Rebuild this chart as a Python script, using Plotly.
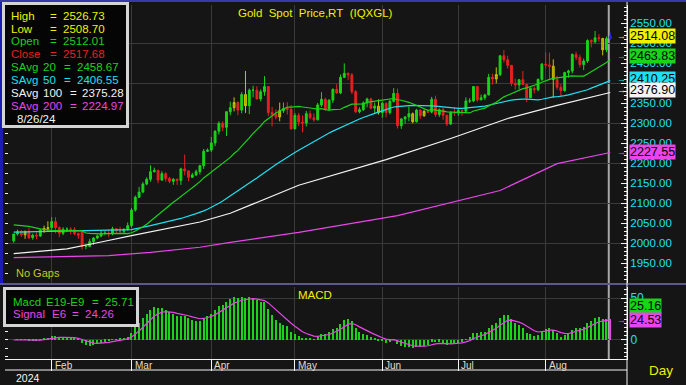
import plotly.graph_objects as go
import pandas as pd
import numpy as np

W, H = 686, 385

# ---------------- data (daily, 2024-01-18 .. 2024-08-26, weekdays) ----------------
start_date, end_date = "2024-01-18", "2024-08-26"

open_jan  = [2006, 2023, 2029, 2021, 2029, 2014, 2020, 2018, 2033, 2037]
high_jan  = [2024, 2034, 2033, 2032, 2038, 2024, 2027, 2036, 2044, 2055]
low_jan   = [2001, 2019, 2016, 2011, 2010, 2009, 2010, 2016, 2026, 2030]
close_jan = [2023, 2029, 2021, 2029, 2014, 2020, 2018, 2033, 2037, 2039]

open_feb  = [2039, 2054, 2039, 2025, 2035, 2035, 2034, 2024, 2028, 1992, 1992, 2004, 2013, 2018, 2025, 2025, 2024, 2036, 2031, 2030, 2034]
high_feb  = [2065, 2065, 2042, 2040, 2040, 2040, 2040, 2027, 2031, 1997, 2011, 2015, 2022, 2032, 2033, 2035, 2041, 2038, 2041, 2038, 2052]
low_feb   = [2035, 2025, 2015, 2020, 2028, 2022, 2020, 2011, 1984, 1985, 1990, 1996, 2010, 2015, 2020, 2015, 2020, 2025, 2025, 2024, 2031]
close_feb = [2054, 2039, 2025, 2035, 2035, 2034, 2024, 2020, 1992, 1992, 2004, 2013, 2018, 2025, 2025, 2024, 2036, 2031, 2030, 2034, 2044]

open_mar  = [2044, 2083, 2115, 2128, 2148, 2160, 2179, 2182, 2158, 2174, 2162, 2155, 2160, 2157, 2186, 2181, 2165, 2171, 2179, 2194, 2230]
high_mar  = [2088, 2119, 2141, 2153, 2165, 2195, 2189, 2184, 2180, 2178, 2166, 2163, 2162, 2189, 2222, 2183, 2176, 2184, 2196, 2236, 2237]
low_mar   = [2039, 2079, 2113, 2126, 2145, 2154, 2177, 2150, 2156, 2154, 2150, 2146, 2146, 2146, 2170, 2155, 2163, 2168, 2172, 2186, 2228]
close_mar = [2083, 2115, 2128, 2148, 2160, 2179, 2182, 2158, 2174, 2162, 2155, 2160, 2157, 2186, 2181, 2165, 2171, 2179, 2194, 2230, 2233]

open_apr  = [2233, 2251, 2280, 2300, 2290, 2329, 2339, 2352, 2333, 2372, 2344, 2383, 2383, 2361, 2379, 2392, 2327, 2322, 2316, 2332, 2337, 2335]
high_apr  = [2266, 2283, 2305, 2305, 2330, 2354, 2365, 2355, 2378, 2431, 2387, 2394, 2393, 2385, 2418, 2392, 2341, 2335, 2352, 2352, 2353, 2346]
low_apr   = [2228, 2243, 2272, 2280, 2268, 2320, 2330, 2320, 2325, 2326, 2323, 2365, 2360, 2355, 2369, 2318, 2292, 2310, 2305, 2326, 2322, 2285]
close_apr = [2251, 2280, 2300, 2290, 2329, 2339, 2352, 2333, 2372, 2344, 2383, 2383, 2361, 2379, 2392, 2327, 2322, 2316, 2332, 2337, 2335, 2286]

open_may  = [2286, 2320, 2303, 2301, 2324, 2314, 2309, 2346, 2360, 2336, 2358, 2385, 2376, 2415, 2425, 2421, 2379, 2329, 2334, 2351, 2361, 2338, 2343]
high_may  = [2326, 2326, 2320, 2331, 2332, 2325, 2351, 2378, 2364, 2360, 2387, 2398, 2422, 2450, 2427, 2426, 2383, 2340, 2355, 2364, 2364, 2352, 2360]
low_may   = [2285, 2293, 2277, 2292, 2310, 2304, 2307, 2341, 2332, 2331, 2351, 2374, 2373, 2413, 2408, 2373, 2326, 2325, 2331, 2340, 2335, 2323, 2322]
close_may = [2320, 2303, 2301, 2324, 2314, 2309, 2346, 2360, 2336, 2358, 2385, 2376, 2415, 2425, 2421, 2379, 2329, 2334, 2351, 2361, 2338, 2343, 2327]

open_jun  = [2327, 2350, 2327, 2355, 2375, 2294, 2311, 2316, 2324, 2304, 2333, 2319, 2330, 2328, 2360, 2322, 2334, 2320, 2298, 2327]
high_jun  = [2354, 2352, 2360, 2388, 2387, 2313, 2318, 2342, 2327, 2336, 2335, 2334, 2334, 2366, 2369, 2337, 2339, 2322, 2330, 2339]
low_jun   = [2314, 2315, 2322, 2352, 2287, 2286, 2299, 2305, 2300, 2302, 2311, 2316, 2326, 2325, 2316, 2316, 2309, 2293, 2296, 2319]
close_jun = [2350, 2327, 2355, 2375, 2294, 2311, 2316, 2324, 2304, 2333, 2319, 2330, 2328, 2360, 2322, 2334, 2320, 2298, 2327, 2326]

open_jul  = [2326, 2332, 2330, 2356, 2356, 2392, 2359, 2364, 2371, 2415, 2411, 2422, 2469, 2459, 2445, 2400, 2396, 2409, 2397, 2364, 2387, 2384, 2410]
high_jul  = [2339, 2335, 2365, 2363, 2392, 2393, 2372, 2374, 2424, 2424, 2440, 2470, 2483, 2469, 2446, 2412, 2411, 2431, 2398, 2390, 2392, 2412, 2451]
low_jul   = [2319, 2319, 2329, 2351, 2353, 2354, 2357, 2358, 2370, 2397, 2400, 2418, 2452, 2437, 2393, 2384, 2385, 2397, 2353, 2364, 2375, 2380, 2406]
close_jul = [2332, 2330, 2356, 2356, 2392, 2359, 2364, 2371, 2415, 2411, 2422, 2469, 2459, 2445, 2400, 2396, 2409, 2397, 2364, 2387, 2384, 2410, 2448]

open_aug  = [2448, 2446, 2443, 2410, 2390, 2382, 2427, 2431, 2472, 2465, 2447, 2456, 2507, 2504, 2514, 2512, 2484, 2512]
high_aug  = [2478, 2477, 2460, 2419, 2398, 2429, 2434, 2475, 2479, 2472, 2462, 2510, 2510, 2531, 2523, 2514, 2517, 2527]
low_aug   = [2437, 2410, 2364, 2384, 2367, 2379, 2414, 2425, 2458, 2440, 2433, 2451, 2490, 2500, 2504, 2470, 2478, 2509]
close_aug = [2446, 2443, 2410, 2390, 2382, 2427, 2431, 2472, 2465, 2447, 2456, 2507, 2504, 2514, 2512, 2484, 2512, 2518]

# bars the chart paints in its neutral (olive) colour
neutral_bar_dates = ["2024-01-23", "2024-01-30", "2024-01-31", "2024-04-09", "2024-04-12", "2024-04-25",
                     "2024-05-31", "2024-06-13", "2024-06-18", "2024-07-15", "2024-08-05", "2024-08-22"]

# moving averages at selected bars (bar index, value)
sma20_idx  = [0, 4, 7, 10, 18]
sma20_head = [2046, 2042, 2036, 2032, 2031]
sma50_idx  = [0, 15, 31, 36, 44, 48]
sma50_head = [2028, 2031, 2034, 2044, 2062, 2074]
sma100_idx = [0, 14, 23, 31, 49, 57, 75, 88, 98, 115, 130, 143, 157]
sma100_val = [1974, 1986, 2003, 2019, 2053, 2075, 2145, 2182, 2209, 2262, 2312, 2345, 2377]
sma200_idx = [0, 23, 25, 36, 49, 57, 75, 101, 128, 143, 157]
sma200_val = [1964, 1967, 1969, 1977, 1990, 2002, 2027, 2069, 2132, 2199, 2227]

month_labels = ["Feb", "Mar", "Apr", "May", "Jun", "Jul", "Aug"]
month_first_day = ["2024-02-01", "2024-03-01", "2024-04-01", "2024-05-01", "2024-06-03", "2024-07-01", "2024-08-01"]
year_label = "2024"

price_ticks = [1950, 2000, 2050, 2100, 2150, 2200, 2250, 2300, 2350, 2400, 2450, 2500, 2550]
macd_ticks = [0, 50]

legend_labels = ["High", "Low", "Open", "Close", "SAvg", "SAvg", "SAvg", "SAvg"]
legend_periods = ["", "", "", "", "20", "50", "100", "200"]
legend_values = ["2526.73", "2508.70", "2512.01", "2517.68", "2458.67", "2406.55", "2375.28", "2224.97"]
legend_date = "8/26/24"
macd_legend_words = [["Macd", "E19-E9", "=", "25.71"], ["Signal", "E6", "=", "24.26"]]
last_labels = [("2514.08", 2514.08), ("2463.83", 2463.83), ("2410.25", 2410.25), ("2376.90", 2376.90), ("2227.55", 2227.55)]
macd_last = [("25.16", 25.16), ("24.53", 24.53)]

# ---------------- assemble ----------------
opens = open_jan + open_feb + open_mar + open_apr + open_may + open_jun + open_jul + open_aug
highs = high_jan + high_feb + high_mar + high_apr + high_may + high_jun + high_jul + high_aug
lows = low_jan + low_feb + low_mar + low_apr + low_may + low_jun + low_jul + low_aug
closes = close_jan + close_feb + close_mar + close_apr + close_may + close_jun + close_jul + close_aug
dates = pd.bdate_range(start_date, end_date)
n = len(dates)
idx = list(range(n))

c = pd.Series(closes, dtype=float)
sma20 = c.rolling(20).mean()
sma50 = c.rolling(50).mean()
ema_fast = c.ewm(span=9, adjust=False).mean()
ema_slow = c.ewm(span=19, adjust=False).mean()
macd = ema_fast - ema_slow
signal = macd.ewm(span=6, adjust=False).mean()

sma20_x = sma20_idx + idx[19:]
sma20_y = sma20_head + list(sma20[19:])
sma50_x = sma50_idx + idx[49:]
sma50_y = sma50_head + list(sma50[49:])

month_pos = [int(dates.get_loc(pd.Timestamp(d))) for d in month_first_day]
neutral = set(int(dates.get_loc(pd.Timestamp(d))) for d in neutral_bar_dates)

# ---------------- styling ----------------
BG = "#151515"
GRID = "#3a3a3a"
GREEN = "#19d419"
RED = "#e62020"
OLIVE = "#a8a000"
YEL = "#f0f000"
CYAN = "#1ee0f0"
WHITE = "#f4f4f4"
MAG = "#e846e8"
FONT = "Arial, Liberation Sans, sans-serif"

def fx(p):
    return p / W

def fy(p):
    return 1 - p / H

XR = [-2.29, 161.4]

fig = go.Figure()

def candle(ii, col, wick=None):
    wick = wick or col
    fig.add_trace(go.Candlestick(
        x=ii, open=[opens[i] for i in ii], high=[highs[i] for i in ii],
        low=[lows[i] for i in ii], close=[closes[i] for i in ii],
        increasing=dict(line=dict(color=wick, width=1), fillcolor=col),
        decreasing=dict(line=dict(color=wick, width=1), fillcolor=col),
        whiskerwidth=0, showlegend=False, hoverinfo="skip", xaxis="x", yaxis="y"))

body = idx[:-1]
up = [i for i in body if closes[i] >= opens[i] and i not in neutral]
dn = [i for i in body if closes[i] < opens[i] and i not in neutral]
nu = [i for i in body if i in neutral]
candle(up, GREEN)
candle(dn, RED)
candle(nu, OLIVE, "#c8c000")
candle([idx[-1]], "#2a2af0")

for xs, ys, col in [(sma200_idx, sma200_val, MAG), (sma100_idx, sma100_val, WHITE),
                    (sma50_x, sma50_y, CYAN), (sma20_x, sma20_y, GREEN)]:
    fig.add_trace(go.Scatter(x=xs, y=ys, mode="lines", line=dict(color=col, width=1.2),
                             showlegend=False, hoverinfo="skip", xaxis="x", yaxis="y"))

bar_cols = [GREEN] * (n - 1) + [MAG]
fig.add_trace(go.Bar(x=idx, y=list(macd), width=0.35, marker=dict(color=bar_cols, line=dict(width=0)),
                     showlegend=False, hoverinfo="skip", xaxis="x2", yaxis="y2"))
fig.add_trace(go.Scatter(x=idx, y=list(signal), mode="lines", line=dict(color=MAG, width=1.2),
                         showlegend=False, hoverinfo="skip", xaxis="x2", yaxis="y2"))
fig.add_trace(go.Scatter(x=[None], y=[None], xaxis="x", yaxis="y3", showlegend=False))
fig.add_trace(go.Scatter(x=[None], y=[None], xaxis="x2", yaxis="y4", showlegend=False))

ax_common = dict(range=XR, tickmode="array", tickvals=month_pos, showticklabels=False,
                 showgrid=True, gridcolor=GRID, gridwidth=1, zeroline=False)
fig.update_layout(
    width=W, height=H, margin=dict(l=0, r=0, t=0, b=0),
    paper_bgcolor=BG, plot_bgcolor=BG, showlegend=False, bargap=0,
    xaxis=dict(domain=[fx(5), fx(627)], anchor="y", ticks="", rangeslider=dict(visible=False), **ax_common),
    xaxis2=dict(domain=[fx(5), fx(627)], anchor="y2", ticks="outside", ticklen=11, tickcolor=WHITE,
                showline=True, linecolor=WHITE, linewidth=1, rangeslider=dict(visible=False), **ax_common),
    yaxis=dict(domain=[fy(283), fy(5)], range=[1900.5, 2596], anchor="x", side="right",
               tickmode="array", tickvals=price_ticks, tickformat=".2f",
               tickfont=dict(family=FONT, size=11.5, color=CYAN),
               ticks="inside", ticklen=6, tickcolor=WHITE, showline=True, linecolor=WHITE, linewidth=1,
               minor=dict(dtick=10, tick0=0, ticks="inside", ticklen=3, tickcolor=WHITE, showgrid=False),
               showgrid=False, zeroline=False),
    yaxis3=dict(range=[1900.5, 2596], overlaying="y", anchor="x", side="left", tickmode="linear",
                tick0=0, dtick=100, showticklabels=False, ticks="inside", ticklen=3, tickcolor=WHITE,
                minor=dict(dtick=25, ticks="inside", ticklen=3, tickcolor=WHITE, showgrid=False),
                showgrid=True, gridcolor=GRID, zeroline=False, showline=False),
    yaxis2=dict(domain=[fy(359), fy(287)], range=[-22.8, 63.5], anchor="x2", side="right",
                tickmode="array", tickvals=macd_ticks,
                tickfont=dict(family=FONT, size=12, color=CYAN),
                ticks="inside", ticklen=6, tickcolor=WHITE, showline=True, linecolor=WHITE,
                minor=dict(dtick=5, tick0=0, ticks="inside", ticklen=3, tickcolor=WHITE, showgrid=False),
                showgrid=True, gridcolor=GRID, zeroline=False),
    yaxis4=dict(range=[-22.8, 63.5], overlaying="y2", anchor="x2", side="left", tickmode="linear",
                tick0=0, dtick=10, showticklabels=False, ticks="inside", ticklen=3, tickcolor=WHITE,
                showgrid=False, zeroline=False, showline=False),
)

shapes = [
    dict(type="rect", xref="paper", yref="paper", x0=0, x1=fx(3), y0=fy(283), y1=1, fillcolor="#1c1cb4", line_width=0),
    dict(type="rect", xref="paper", yref="paper", x0=0, x1=1, y0=fy(2), y1=1, fillcolor="#3838a8", line_width=0),
    dict(type="rect", xref="paper", yref="paper", x0=0, x1=1, y0=fy(285), y1=fy(283), fillcolor="#5a5a8a", line_width=0),
    dict(type="line", xref="paper", yref="paper", x0=fx(627), x1=fx(627), y0=0, y1=fy(2), line=dict(color=WHITE, width=1)),
    dict(type="line", xref="paper", yref="paper", x0=fx(5), x1=fx(627), y0=fy(370), y1=fy(370), line=dict(color=WHITE, width=1)),
    dict(type="line", xref="x", yref="paper", x0=idx[-1] - 0.4, x1=idx[-1] - 0.4, y0=fy(359), y1=fy(5),
         line=dict(color="#a8a8a8", width=2), layer="below"),
    dict(type="rect", xref="paper", yref="paper", x0=fx(3.5), x1=fx(127.5), y0=fy(126.5), y1=fy(3.5),
         fillcolor="#050505", line=dict(color="#d4d4d4", width=3)),
    dict(type="rect", xref="paper", yref="paper", x0=fx(4.5), x1=fx(137.5), y0=fy(325.5), y1=fy(288.5),
         fillcolor="#050505", line=dict(color="#d4d4d4", width=3)),
]
fig.update_layout(shapes=shapes)

ann = []
def text(x, y, s, col, size=11.5, xanchor="left", xref="paper", yref="paper", **kw):
    ann.append(dict(x=x, y=y, xref=xref, yref=yref, text=s, showarrow=False, xanchor=xanchor,
                    yanchor="middle", font=dict(family=FONT, size=size, color=col), **kw))

NB = "\u00a0"
leg_cols = [YEL, YEL, GREEN, RED, GREEN, CYAN, WHITE, MAG]
for k in range(len(legend_labels)):
    col = leg_cols[k]
    yy = fy(15.7 + 12.9 * k)
    text(fx(9), yy, legend_labels[k], col)
    if legend_periods[k]:
        text(fx(41), yy, legend_periods[k], col)
        eq_x, val_x = (62, 75) if len(legend_periods[k]) == 2 else (68, 80)
    else:
        eq_x, val_x = 48, 60.5
    text(fx(eq_x), yy, "=", col)
    text(fx(val_x), yy, legend_values[k], col)
text(fx(15), fy(119), legend_date, WHITE)

macd_word_x = [[11, 44, 90, 103], [11, 50, 70, 83]]
for words, xs, col, yy in zip(macd_legend_words, macd_word_x, [GREEN, MAG], [301.7, 314.2]):
    for w, xw in zip(words, xs):
        text(fx(xw), fy(yy), w, col)

text(fx(315), fy(12.7), "Gold" + NB * 2 + "Spot" + NB * 2 + "Price,RT" + NB * 2 + "(IQXGL)", YEL, 11.5, xanchor="center")
text(fx(315), fy(295), "MACD", YEL, 11.5, xanchor="center")
text(fx(14), fy(273), "No" + NB + "Gaps", "#c8c820", 11)
text(fx(14), fy(377.5), year_label, WHITE, 10.5)
text(fx(661), fy(370), "Day", YEL, 13.5, xanchor="center")

for lab, pos in zip(month_labels, month_pos):
    text(pos, fy(365), lab, "#e6dcc8", 10, xref="x", xshift=1)

lab_cols = [YEL, GREEN, CYAN, WHITE, MAG]
lab_shift = [1.5, 1.7, 0, 2.5, 0]
for (s, v), col, sh in zip(last_labels, lab_cols, lab_shift):
    ann.append(dict(x=fx(629), y=v, xref="paper", yref="y", text=s, showarrow=False, xanchor="left",
                    yanchor="middle", yshift=sh, bgcolor=col, borderpad=0,
                    font=dict(family=FONT, size=12.5, color="#000000")))
    ann.append(dict(x=fx(621), y=v, xref="paper", yref="y", text="→", showarrow=False, xanchor="center",
                    yanchor="middle", yshift=sh, font=dict(family=FONT, size=9, color=col)))
for (s, v), col, sh in zip(macd_last, [GREEN, MAG], [12.6, 0]):
    ann.append(dict(x=fx(629), y=v, xref="paper", yref="y2", text=s, showarrow=False, xanchor="left",
                    yanchor="middle", yshift=sh, bgcolor=col, borderpad=0,
                    font=dict(family=FONT, size=12.5, color="#000000")))
ann.append(dict(x=fx(621), y=macd_last[1][1], xref="paper", yref="y2", text="→", showarrow=False,
                xanchor="center", yanchor="middle", font=dict(family=FONT, size=9, color=MAG)))

fig.update_layout(annotations=ann)
fig.write_html("out.html", config={"displayModeBar": False},
               post_script="document.body.style.margin='0px';document.body.style.overflow='hidden';")
